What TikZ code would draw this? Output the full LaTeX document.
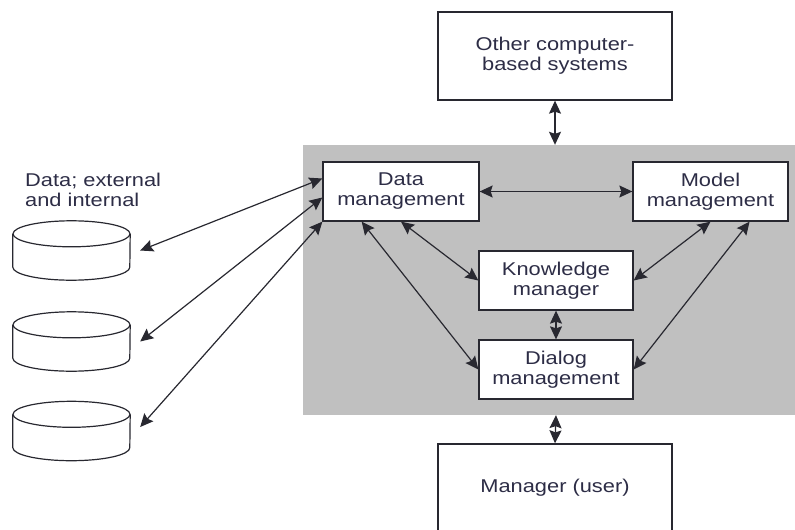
\documentclass[tikz,border=0pt]{standalone}
\usepackage{fontspec}
\setmainfont{Liberation Sans}[FakeStretch=1.18]
\usetikzlibrary{positioning, calc, arrows.meta}
\definecolor{panelgray}{RGB}{192,192,192}
\definecolor{inkcol}{RGB}{40,40,48}
\definecolor{textcol}{RGB}{45,45,70}

\begin{document}
\begin{tikzpicture}[x=1pt, y=-1pt,
    box/.style={rectangle, draw=inkcol, line width=1.3pt, fill=white, text=textcol, align=center, inner sep=0pt, font=\fontsize{18.5}{20}\selectfont},
    link/.style={{Stealth[length=13pt,width=12pt,inset=2pt]}-{Stealth[length=13pt,width=12pt,inset=2pt]}, line width=1.2pt, draw=inkcol},
    store/.style={rectangle, minimum width=117pt, minimum height=59pt, inner sep=0pt}]
    \useasboundingbox (0,0) rectangle (795,530);

    \node[fill=panelgray, minimum width=492pt, minimum height=270pt, inner sep=0pt] (panel) at (549,280) {};

    \node[box, minimum width=234pt, minimum height=88pt] (other) at (555,56) {Other computer-\\based systems};
    \node[box, minimum width=234pt, minimum height=88pt] (user) at (555,488) {Manager (user)};

    \node[box, minimum width=156pt, minimum height=59pt] (data) at (401,191.5) {Data\\management};
    \node[box, minimum width=155pt, minimum height=59pt] (model) at (710.5,191.5) {Model\\management};
    \node[box, minimum width=154pt, minimum height=59pt] (know) at (556,280.5) {Knowledge\\manager};
    \node[box, minimum width=154pt, minimum height=59pt] (dialog) at (556,369.5) {Dialog\\management};

    \node[anchor=west, align=left, text=textcol, inner sep=0pt, font=\fontsize{18.5}{20}\selectfont] (dblabel) at (25,190) {Data; external\\and internal};
    \node[store] (db1) at (71.5,250.5) {};
    \node[store] (db2) at (71.5,341.5) {};
    \node[store] (db3) at (71.5,431) {};

    % the three data stores
    \foreach \d in {db1,db2,db3} {
        \draw[draw=inkcol, line width=1.2pt, fill=white]
            ([yshift=-13pt]\d.north west) -- ([yshift=13pt]\d.south west)
            arc[start angle=180, end angle=360, x radius=58.5pt, y radius=13pt]
            -- ([yshift=-13pt]\d.north east);
        \draw[draw=inkcol, line width=1.2pt, fill=white] ([yshift=-13pt]\d.north) ellipse[x radius=58.5pt, y radius=13pt];
    }

    % links inside the system
    \draw[link] (data.east) -- (model.west);
    \draw[link] (data.south) -- (know.west);
    \draw[link] ($(data.south)!0.5!(data.south west)$) -- (dialog.west);
    \draw[link] (model.south) -- (know.east);
    \draw[link] ($(model.south)!0.5!(model.south east)$) -- (dialog.east);
    \draw[link] (know.south) -- (dialog.north);

    % outside
    \draw[link] (other.south) -- (other.south |- panel.north);
    \draw[link] (dialog.south |- panel.south) -- (user.north);
    \draw[link] ([xshift=10pt]db1.east) -- ([yshift=13pt]data.west);
    \draw[link] ([xshift=10pt]db2.east) -- ([yshift=-6pt]data.west);
    \draw[link] ([xshift=10pt,yshift=4pt]db3.east) -- (data.south west);
\end{tikzpicture}
\end{document}
